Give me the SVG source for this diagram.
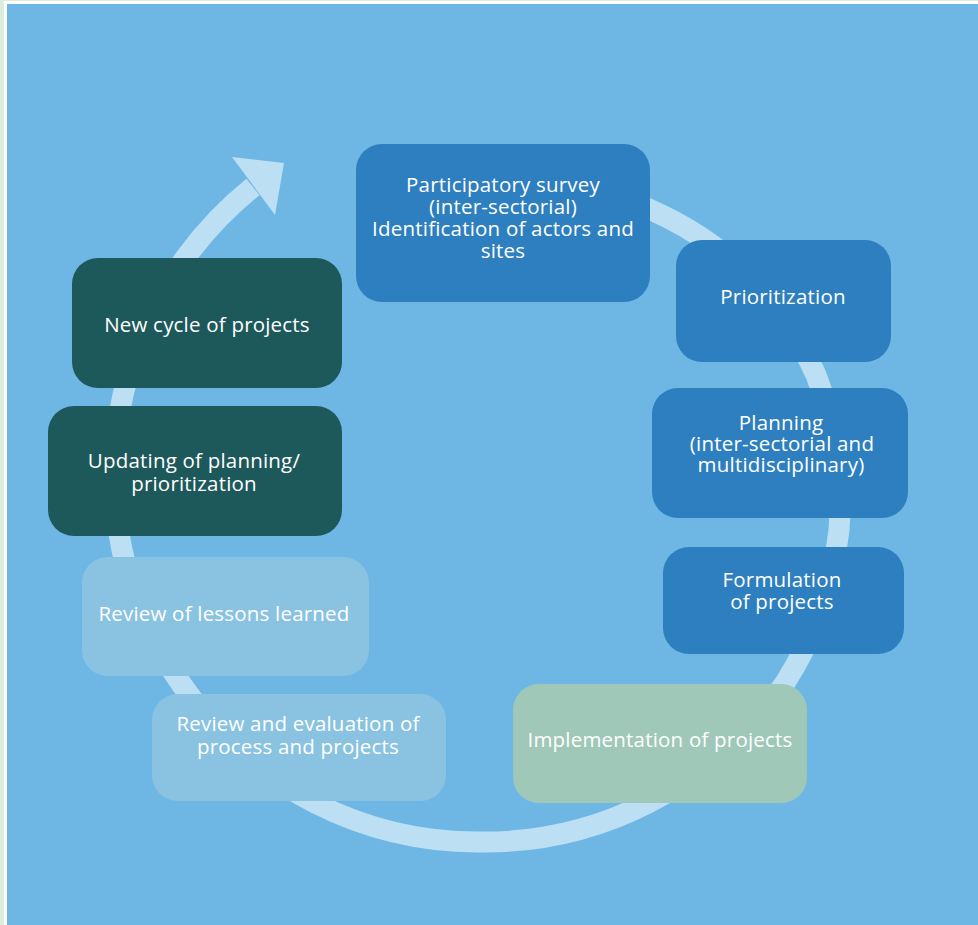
<svg xmlns="http://www.w3.org/2000/svg" width="978" height="925" viewBox="0 0 978 925">
<defs>
<style>
.bg{fill:#6eb7e5}
.ring{fill:none;stroke:#bcdff3;stroke-width:21}
.head{fill:#bcdff3}
.blue{fill:#2e7fc0}
.teal{fill:#1d595b}
.light{fill:#8ac3e2}
.green{fill:#9fc8b8}
text{font-family:"Open Sans","Noto Sans","DejaVu Sans",sans-serif;font-size:20.5px;letter-spacing:0.2px;fill:#ffffff;text-anchor:middle}
</style>
</defs>
<rect x="0" y="0" width="978" height="925" fill="#dcecdf"/>
<rect x="4" y="1" width="974" height="924" fill="#ffffff"/>
<rect class="bg" x="7" y="4" width="971" height="921"/>
<g id="connectors">
<path class="ring" d="M575,183 A318,318 0 0 1 651,210 A330,330 0 0 1 747,274 A345,345 0 0 1 816,375 A357,357 0 0 1 839,530 A362,362 0 0 1 785,683 A363,363 0 0 1 648,803 A361,361 0 0 1 483,842 A360,360 0 0 1 315,803 A361,361 0 0 1 182,685 A363,363 0 0 1 122,550 A366,366 0 0 1 123,395 A370,370 0 0 1 186,257 A372,372 0 0 1 253,187"/>
<polygon class="head" points="232,157 284,163 275,215"/>
</g>
<g id="n1"><rect class="blue" x="356" y="144" width="294" height="158" rx="26"/>
<text x="503" y="192">Participatory survey</text><text x="503" y="214">(inter-sectorial)</text><text x="503" y="236">Identification of actors and</text><text x="503" y="258">sites</text></g>
<g id="n2"><rect class="blue" x="676" y="240" width="215" height="122" rx="26"/>
<text x="783" y="304">Prioritization</text></g>
<g id="n3"><rect class="blue" x="652" y="388" width="256" height="130" rx="26"/>
<text x="781" y="430">Planning</text><text x="782" y="451">(inter-sectorial and</text><text x="781" y="472">multidisciplinary)</text></g>
<g id="n4"><rect class="blue" x="663" y="547" width="241" height="107" rx="26"/>
<text x="782" y="587">Formulation</text><text x="782" y="609">of projects</text></g>
<g id="n5"><rect class="green" x="513" y="684" width="294" height="119" rx="26"/>
<text x="660" y="747">Implementation of projects</text></g>
<g id="n6"><rect class="light" x="152" y="694" width="294" height="107" rx="26"/>
<text x="298" y="731">Review and evaluation of</text><text x="298" y="754">process and projects</text></g>
<g id="n7"><rect class="light" x="82" y="557" width="287" height="119" rx="26"/>
<text x="224" y="621">Review of lessons learned</text></g>
<g id="n8"><rect class="teal" x="48" y="406" width="294" height="130" rx="26"/>
<text x="194" y="468">Updating of planning/</text><text x="194" y="491">prioritization</text></g>
<g id="n9"><rect class="teal" x="72" y="258" width="270" height="130" rx="26"/>
<text x="207" y="332">New cycle of projects</text></g>
</svg>
